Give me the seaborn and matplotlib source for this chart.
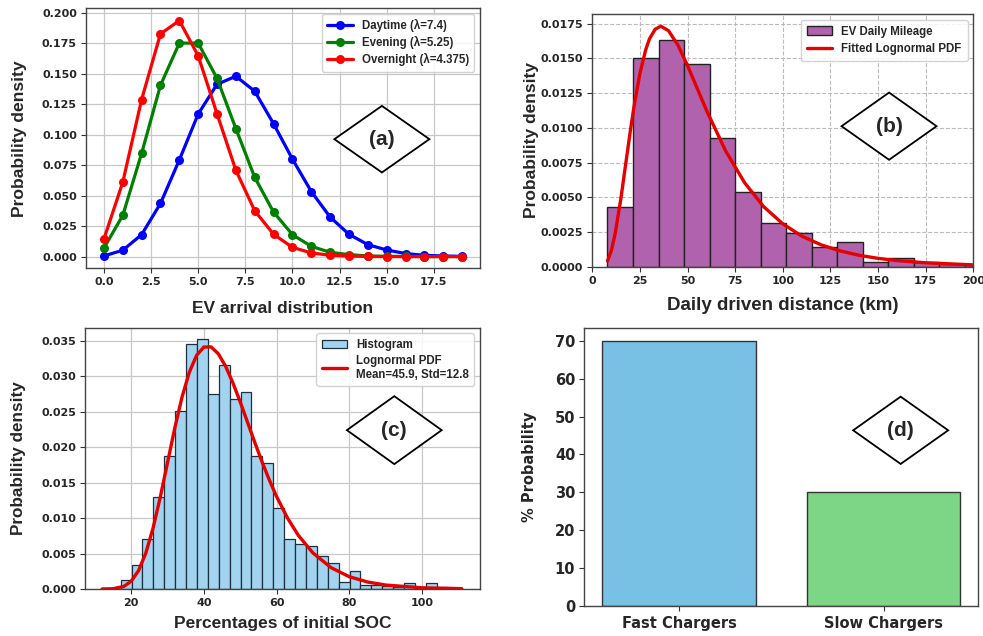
import numpy as np
import pandas as pd
import matplotlib
matplotlib.use("Agg")
import matplotlib.pyplot as plt
import seaborn as sns
from matplotlib.patches import Polygon
from matplotlib.font_manager import FontProperties

# ---------------- data ----------------
# (a) EV arrival distribution (Poisson pmf)
arrivals = list(range(20))
daytime = [0.0005, 0.0052, 0.018, 0.0436, 0.0793, 0.117, 0.1414, 0.148, 0.1357, 0.109,
           0.080, 0.0534, 0.0324, 0.0183, 0.0098, 0.0054, 0.0025, 0.001, 0.0005, 0.0002]
evening = [0.007, 0.0338, 0.0847, 0.1406, 0.1752, 0.1752, 0.1463, 0.105, 0.065, 0.0365,
           0.018, 0.0084, 0.0035, 0.0016, 0.0005, 0.0002, 0.0001, 0.0, 0.0, 0.0]
overnight = [0.0144, 0.061, 0.1289, 0.1828, 0.1937, 0.1648, 0.1172, 0.0708, 0.0376, 0.0183,
             0.0076, 0.003, 0.0011, 0.0004, 0.0001, 0.0, 0.0, 0.0, 0.0, 0.0]
series_labels = ["Daytime (λ=7.4)", "Evening (λ=5.25)", "Overnight (λ=4.375)"]

# (b) EV daily mileage histogram (density) and fitted lognormal curve
mileage_edges = [8.0, 21.4, 34.8, 48.2, 61.6, 75.0, 88.4, 101.8, 115.2, 128.6,
                 142.0, 155.4, 168.8, 182.2, 195.6, 209.0]
mileage_density = [0.0043, 0.0150, 0.0163, 0.0146, 0.0093, 0.00535, 0.00315, 0.00246,
                   0.00141, 0.00177, 0.00036, 0.0006, 0.00036, 0.00022, 0.00015]
mileage_fit_x = [8, 10, 12, 15, 18, 20, 22, 25, 28, 30, 33, 36, 40, 45, 50, 55, 60, 70,
                 80, 90, 100, 110, 120, 130, 140, 150, 160, 175, 200]
mileage_fit_y = [0.00041, 0.00115, 0.00236, 0.00488, 0.00783, 0.00979, 0.0116, 0.0139,
                 0.0156, 0.0164, 0.0171, 0.01732, 0.0170, 0.01595, 0.01449, 0.01287,
                 0.01125, 0.00834, 0.00604, 0.00432, 0.00309, 0.0022, 0.00158, 0.00114,
                 0.00082, 0.0006, 0.00044, 0.00028, 0.00013]

# (c) initial SOC histogram (density) and lognormal curve
soc_edges = [17.1, 20.1, 23.1, 26.1, 29.1, 32.1, 35.1, 38.1, 41.1, 44.1, 47.1, 50.1,
             53.1, 56.1, 59.1, 62.1, 65.1, 68.1, 71.1, 74.1, 77.1, 80.1, 83.1, 86.1,
             89.1, 92.1, 95.1, 98.1, 101.1, 104.1, 107.1]
soc_density = [0.0013, 0.0034, 0.0071, 0.0130, 0.0187, 0.0251, 0.0345, 0.0352, 0.0275,
               0.0315, 0.0268, 0.0278, 0.0187, 0.0178, 0.0114, 0.0071, 0.0063, 0.0060,
               0.0047, 0.0037, 0.0010, 0.0026, 0.0005, 0.0005, 0.0004, 0.0003, 0.0008,
               0.0002, 0.0008, 0.0003]
soc_fit_x = [12, 15, 18, 20, 22, 24, 26, 28, 30, 32, 34, 36, 38, 40, 42, 44, 46, 48, 50,
             52, 54, 56, 58, 60, 63, 66, 70, 75, 80, 85, 90, 100, 111]
soc_fit_y = [0.0, 0.00004, 0.00037, 0.00109, 0.00256, 0.00502, 0.00853, 0.01292,
             0.01779, 0.02266, 0.02704, 0.03053, 0.03291, 0.03408, 0.0341, 0.03312,
             0.03136, 0.02903, 0.02636, 0.02352, 0.02067, 0.01793, 0.01538, 0.01304,
             0.01002, 0.00756, 0.00509, 0.00301, 0.00174, 0.00099, 0.00056, 0.00017,
             0.00005]

# (d) charger type probabilities
charger_types = ["Fast Chargers", "Slow Chargers"]
charger_prob = [70, 30]

# ---------------- style ----------------
sns.set_style("white")
plt.rcParams["font.family"] = ["DejaVu Sans"]

fig = plt.figure(figsize=(9.83, 6.36), dpi=100)
fig.patch.set_facecolor("white")

ax_a = fig.add_axes([0.0875, 0.578, 0.4008, 0.4088])
ax_b = fig.add_axes([0.6025, 0.5807, 0.3876, 0.3973])
ax_c = fig.add_axes([0.0865, 0.0739, 0.4018, 0.4108])
ax_d = fig.add_axes([0.5944, 0.0476, 0.4008, 0.4371])

lab_font = dict(family="Liberation Sans", weight="bold")
leg_prop = FontProperties(family="Liberation Sans", weight="bold", size=8.3)


def style_ticks(ax, size=8):
    ax.tick_params(axis="both", which="both", length=3.5, width=0.8, color="#333333",
                   direction="out", bottom=True, left=True, labelsize=size, pad=3)
    for lab in ax.get_xticklabels() + ax.get_yticklabels():
        lab.set_fontweight("bold")
    for sp in ax.spines.values():
        sp.set_color("#444444")
        sp.set_linewidth(1.0)
        sp.set_visible(True)


def diamond(ax, cx, cy, hw, hh, text):
    pts = [(cx - hw, cy), (cx, cy + hh), (cx + hw, cy), (cx, cy - hh)]
    poly = Polygon(pts, closed=True, transform=ax.transAxes, facecolor="white",
                   edgecolor="black", linewidth=1.3, zorder=5)
    ax.add_patch(poly)
    ax.text(cx, cy, text, transform=ax.transAxes, ha="center", va="center",
            fontsize=15, family="Liberation Sans", weight="bold", zorder=6)


def ordered_legend(ax, order, **kw):
    handles, labels = ax.get_legend_handles_labels()
    lookup = dict(zip(labels, handles))
    ax.legend([lookup[l] for l in order], order, **kw)


# ---------------- (a) ----------------
for vals, col, lab in zip([daytime, evening, overnight], ["blue", "green", "red"], series_labels):
    sns.lineplot(x=arrivals, y=vals, ax=ax_a, color=col, marker="o", markersize=6.5,
                 markeredgewidth=0, linewidth=2.3, label=lab)
ax_a.grid(True, color="#c8c8c8", linewidth=0.9)
ax_a.set_axisbelow(True)
ax_a.set_xticks([0, 2.5, 5, 7.5, 10, 12.5, 15, 17.5])
ax_a.set_xticklabels(["0.0", "2.5", "5.0", "7.5", "10.0", "12.5", "15.0", "17.5"])
ax_a.set_yticks([0, 0.025, 0.05, 0.075, 0.1, 0.125, 0.15, 0.175, 0.2])
ax_a.set_yticklabels(["0.000", "0.025", "0.050", "0.075", "0.100", "0.125", "0.150", "0.175", "0.200"])
ax_a.set_xlim(-0.95, 19.95)
ax_a.set_ylim(-0.0097, 0.2037)
ax_a.set_xlabel("EV arrival distribution", fontsize=12.5, labelpad=10, **lab_font)
ax_a.set_ylabel("Probability density", fontsize=12.6, labelpad=11, **lab_font)
style_ticks(ax_a)
ax_a.legend(loc="upper right", prop=leg_prop, handlelength=2.2, borderpad=0.45,
            labelspacing=0.35, framealpha=0.85, edgecolor="#cccccc")
diamond(ax_a, 0.751, 0.497, 0.1206, 0.128, "(a)")

# ---------------- (b) ----------------
b_edges = np.array(mileage_edges)
b_centers = (b_edges[:-1] + b_edges[1:]) / 2
sns.histplot(x=b_centers, weights=mileage_density, bins=mileage_edges, stat="count",
             ax=ax_b, color="#B062AD", alpha=1.0, edgecolor="#222222", linewidth=1.0,
             label="EV Daily Mileage")
sns.lineplot(x=mileage_fit_x, y=mileage_fit_y, ax=ax_b, color="#e60000", linewidth=2.4,
             label="Fitted Lognormal PDF")
ax_b.grid(True, linestyle="--", color="#bbbbbb", linewidth=0.8)
ax_b.set_axisbelow(True)
ax_b.set_xlim(0, 200)
ax_b.set_ylim(0, 0.0182)
ax_b.set_xticks([0, 25, 50, 75, 100, 125, 150, 175, 200])
ax_b.set_yticks([0, 0.0025, 0.005, 0.0075, 0.01, 0.0125, 0.015, 0.0175])
ax_b.set_yticklabels(["0.0000", "0.0025", "0.0050", "0.0075", "0.0100", "0.0125", "0.0150", "0.0175"])
ax_b.set_xlabel("Daily driven distance (km)", fontsize=13.5, labelpad=8, **lab_font)
ax_b.set_ylabel("Probability density", fontsize=12.5, labelpad=1, **lab_font)
style_ticks(ax_b)
ordered_legend(ax_b, ["EV Daily Mileage", "Fitted Lognormal PDF"], loc="upper right",
               prop=leg_prop, handlelength=2.2, borderpad=0.5, labelspacing=0.5,
               framealpha=0.85, edgecolor="#cccccc")
diamond(ax_b, 0.779, 0.556, 0.1247, 0.133, "(b)")

# ---------------- (c) ----------------
c_edges = np.array(soc_edges)
c_centers = (c_edges[:-1] + c_edges[1:]) / 2
sns.histplot(x=c_centers, weights=soc_density, bins=soc_edges, stat="count",
             ax=ax_c, color="#A2D3EF", alpha=1.0, edgecolor="#1e3040", linewidth=0.9,
             label="Histogram")
sns.lineplot(x=soc_fit_x, y=soc_fit_y, ax=ax_c, color="#e60000", linewidth=2.4,
             label="Lognormal PDF\nMean=45.9, Std=12.8")
ax_c.grid(True, color="#c8c8c8", linewidth=0.9)
ax_c.set_axisbelow(True)
ax_c.set_xlim(7.3, 116.0)
ax_c.set_ylim(0, 0.0368)
ax_c.set_xticks([20, 40, 60, 80, 100])
ax_c.set_yticks([0, 0.005, 0.01, 0.015, 0.02, 0.025, 0.03, 0.035])
ax_c.set_yticklabels(["0.000", "0.005", "0.010", "0.015", "0.020", "0.025", "0.030", "0.035"])
ax_c.set_xlabel("Percentages of initial SOC", fontsize=12.5, labelpad=6, **lab_font)
ax_c.set_ylabel("Probability density", fontsize=12.3, labelpad=11, **lab_font)
style_ticks(ax_c)
ordered_legend(ax_c, ["Histogram", "Lognormal PDF\nMean=45.9, Std=12.8"], loc="upper right",
               prop=leg_prop, handlelength=2.2, borderpad=0.45, labelspacing=0.35,
               framealpha=0.85, edgecolor="#cccccc")
diamond(ax_c, 0.783, 0.608, 0.120, 0.130, "(c)")

# ---------------- (d) ----------------
df_d = pd.DataFrame({"type": charger_types, "prob": charger_prob})
sns.barplot(data=df_d, x="type", y="prob", hue="type", palette=["#78C0E4", "#7DD685"],
            width=0.75, edgecolor="#333333", linewidth=1.0, ax=ax_d, legend=False,
            saturation=1)
ax_d.set_xlim(-0.4625, 1.4625)
ax_d.set_ylim(0, 73.5)
ax_d.set_yticks([0, 10, 20, 30, 40, 50, 60, 70])
ax_d.set_xlabel("")
ax_d.set_ylabel("% Probability", fontsize=10.5, weight="bold", labelpad=13)
style_ticks(ax_d, size=10.5)
ax_d.tick_params(axis="x", pad=4)
diamond(ax_d, 0.803, 0.631, 0.1206, 0.121, "(d)")

fig.savefig("out.png", dpi=100, facecolor="white")
